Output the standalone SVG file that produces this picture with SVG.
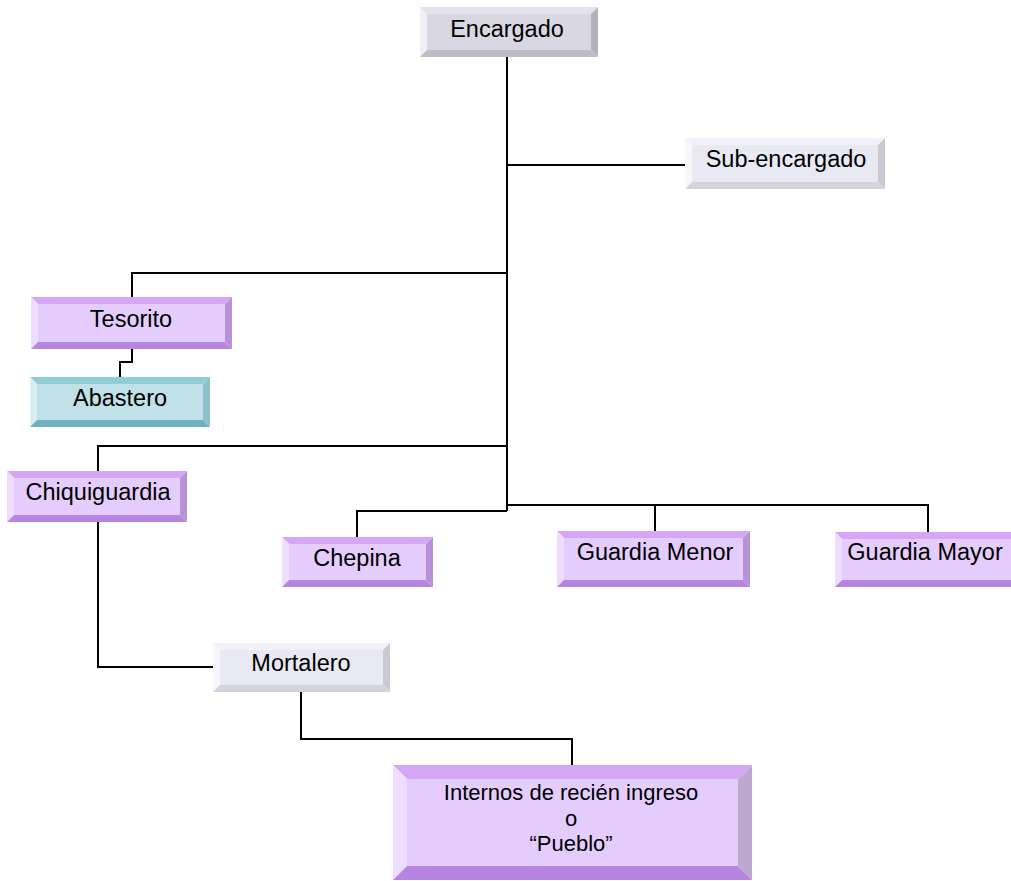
<svg xmlns="http://www.w3.org/2000/svg" width="1011" height="881" viewBox="0 0 1011 881">
<style>
text{font-family:"Liberation Sans",Arial,sans-serif;font-size:23.5px;fill:#000;text-anchor:middle}
.sm{font-size:22px}
.ln{fill:none;stroke:#000;stroke-width:2}
.p .t{fill:#D6A6F6}.p .l{fill:#EEDDFF}.p .r{fill:#B892D6}.p .b{fill:#B685E2}.p .f{fill:#E4CCFD}
.g .t{fill:#E4E3EA}.g .l{fill:#F0F0F4}.g .r{fill:#B3B2BC}.g .b{fill:#BDBCC8}.g .f{fill:#D9D8E2}
.w .t{fill:#F1F1F8}.w .l{fill:#F6F6FB}.w .r{fill:#C9C9D3}.w .b{fill:#D3D3DE}.w .f{fill:#E9E9F4}
.c .t{fill:#92CDD7}.c .l{fill:#D8EEF2}.c .r{fill:#8FBFC7}.c .b{fill:#6CB3BF}.c .f{fill:#BFE1E7}
</style>
<g id="connectors">
<path class="ln" d="M507,57 V511"/>
<path class="ln" d="M507,165 H685"/>
<path class="ln" d="M507,273 H132 V297"/>
<path class="ln" d="M132,349 V362 H120 V377"/>
<path class="ln" d="M507,446 H98 V471"/>
<path class="ln" d="M507,511 H357 V537"/>
<path class="ln" d="M507,505 H928 V532"/>
<path class="ln" d="M655,505 V531"/>
<path class="ln" d="M98,522 V667 H213"/>
<path class="ln" d="M301,692 V739 H572 V765"/>
</g>
<g id="encargado" class="g">
<polygon class="t" points="420,7 598,7 591,14 427,14"/>
<polygon class="l" points="420,7 427,14 427,50 420,57"/>
<polygon class="r" points="598,7 598,57 591,50 591,14"/>
<polygon class="b" points="420,57 598,57 591,50 427,50"/>
<rect class="f" x="427" y="14" width="164" height="36"/>
<text x="507" y="37">Encargado</text>
</g>
<g id="subencargado" class="w">
<polygon class="t" points="685,138 885,138 878,145 692,145"/>
<polygon class="l" points="685,138 692,145 692,182 685,189"/>
<polygon class="r" points="885,138 885,189 878,182 878,145"/>
<polygon class="b" points="685,189 885,189 878,182 692,182"/>
<rect class="f" x="692" y="145" width="186" height="37"/>
<text x="786" y="167">Sub-encargado</text>
</g>
<g id="tesorito" class="p">
<polygon class="t" points="31,297 232,297 225,304 38,304"/>
<polygon class="l" points="31,297 38,304 38,342 31,349"/>
<polygon class="r" points="232,297 232,349 225,342 225,304"/>
<polygon class="b" points="31,349 232,349 225,342 38,342"/>
<rect class="f" x="38" y="304" width="187" height="38"/>
<text x="131" y="327">Tesorito</text>
</g>
<g id="abastero" class="c">
<polygon class="t" points="30,377 210,377 203,384 37,384"/>
<polygon class="l" points="30,377 37,384 37,420 30,427"/>
<polygon class="r" points="210,377 210,427 203,420 203,384"/>
<polygon class="b" points="30,427 210,427 203,420 37,420"/>
<rect class="f" x="37" y="384" width="166" height="36"/>
<text x="120" y="406">Abastero</text>
</g>
<g id="chiquiguardia" class="p">
<polygon class="t" points="7,471 187,471 180,478 14,478"/>
<polygon class="l" points="7,471 14,478 14,515 7,522"/>
<polygon class="r" points="187,471 187,522 180,515 180,478"/>
<polygon class="b" points="7,522 187,522 180,515 14,515"/>
<rect class="f" x="14" y="478" width="166" height="37"/>
<text x="98" y="500">Chiquiguardia</text>
</g>
<g id="chepina" class="p">
<polygon class="t" points="282,537 433,537 426,544 289,544"/>
<polygon class="l" points="282,537 289,544 289,580 282,587"/>
<polygon class="r" points="433,537 433,587 426,580 426,544"/>
<polygon class="b" points="282,587 433,587 426,580 289,580"/>
<rect class="f" x="289" y="544" width="137" height="36"/>
<text x="357" y="566">Chepina</text>
</g>
<g id="guardiamenor" class="p">
<polygon class="t" points="557,531 750,531 743,538 564,538"/>
<polygon class="l" points="557,531 564,538 564,580 557,587"/>
<polygon class="r" points="750,531 750,587 743,580 743,538"/>
<polygon class="b" points="557,587 750,587 743,580 564,580"/>
<rect class="f" x="564" y="538" width="179" height="42"/>
<text x="655" y="560">Guardia Menor</text>
</g>
<g id="guardiamayor" class="p">
<polygon class="t" points="835,532 1025,532 1018,539 842,539"/>
<polygon class="l" points="835,532 842,539 842,580 835,587"/>
<polygon class="r" points="1025,532 1025,587 1018,580 1018,539"/>
<polygon class="b" points="835,587 1025,587 1018,580 842,580"/>
<rect class="f" x="842" y="539" width="176" height="41"/>
<text x="925" y="560">Guardia Mayor</text>
</g>
<g id="mortalero" class="w">
<polygon class="t" points="213,643 390,643 383,650 220,650"/>
<polygon class="l" points="213,643 220,650 220,685 213,692"/>
<polygon class="r" points="390,643 390,692 383,685 383,650"/>
<polygon class="b" points="213,692 390,692 383,685 220,685"/>
<rect class="f" x="220" y="650" width="163" height="35"/>
<text x="301" y="671">Mortalero</text>
</g>
<g id="internos" class="p">
<polygon class="t" points="393,765 752,765 738,779 407,779"/>
<polygon class="l" points="393,765 407,779 407,866 393,880"/>
<polygon class="r" points="752,765 752,880 738,866 738,779" style="fill:#BDA8CF"/>
<polygon class="b" points="393,880 752,880 738,866 407,866"/>
<rect class="f" x="407" y="779" width="331" height="87"/>
<text class="sm" x="571" y="800">Internos de recién ingreso</text>
<text class="sm" x="571" y="826">o</text>
<text class="sm" x="571" y="851">“Pueblo”</text>
</g>
</svg>
